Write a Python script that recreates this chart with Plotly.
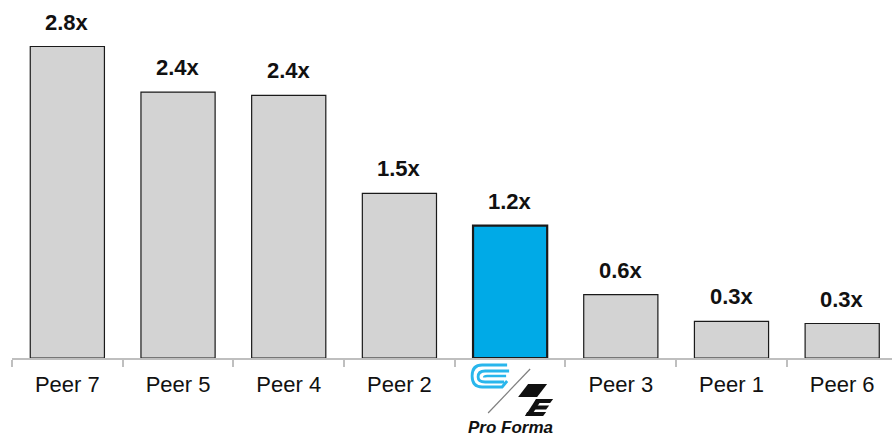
import plotly.graph_objects as go

categories = ["Peer 7", "Peer 5", "Peer 4", "Peer 2", "Pro Forma", "Peer 3", "Peer 1", "Peer 6"]
values = [2.80, 2.39, 2.36, 1.48, 1.19, 0.57, 0.33, 0.31]
labels = ["2.8x", "2.4x", "2.4x", "1.5x", "1.2x", "0.6x", "0.3x", "0.3x"]
highlight = "Pro Forma"

GRAY = "#d3d3d3"
BLUE = "#00aae7"
FONT = "Liberation Sans, Arial, sans-serif"

fill = [BLUE if c == highlight else GRAY for c in categories]
line_w = [2.2 if c == highlight else 1.2 for c in categories]

fig = go.Figure()
fig.add_trace(go.Bar(
    x=categories, y=values, width=0.67,
    marker=dict(color=fill, line=dict(color="#1a1a1a", width=line_w)),
    hoverinfo="skip",
))

for c, v, t in zip(categories, values, labels):
    fig.add_annotation(x=c, y=v, text=f"<b>{t}</b>", showarrow=False, yanchor="bottom",
                       yshift=10, font=dict(family=FONT, size=22, color="#111111"))

fig.add_annotation(x=highlight, y=0, text="<b><i>Pro Forma</i></b>", showarrow=False,
                   yanchor="middle", yshift=-69,
                   font=dict(family=FONT, size=17, color="#111111"))

# logo decoration under the Pro Forma category (pixel offsets from category centre / baseline)
CX, BY = 510, 358

def pth(cmds):
    out = []
    for cmd in cmds:
        if isinstance(cmd, str):
            out.append(cmd)
        else:
            out.append(f"{cmd[0]-CX},{BY-cmd[1]}")
    return " ".join(out)

def shape(cmds, **kw):
    fig.add_shape(type="path", path=pth(cmds), xref="x", yref="paper",
                  xanchor=highlight, yanchor=0, xsizemode="pixel", ysizemode="pixel", **kw)

cyan = "#29b6ec"
shape(["M", (507, 365), "L", (482, 365), "Q", (472, 365), "", (472, 376), "Q", (472, 387), "", (482, 387), "L", (502, 387),
       "L", (507, 381)],
      line=dict(color=cyan, width=2.8))
shape(["M", (509, 371), "L", (485, 371), "Q", (478, 371), "", (478, 377), "Q", (478, 382), "", (485, 382), "L", (504, 382)],
      line=dict(color=cyan, width=2.8))
shape(["M", (506, 376), "L", (487, 376), "Q", (484, 376), "", (484, 377.5)],
      line=dict(color=cyan, width=2.4))
shape(["M", (488, 413), "L", (530, 369)], line=dict(color="#7f7f7f", width=1.2))
blk = dict(fillcolor="#111111", line=dict(width=0))
shape(["M", (528, 384), "L", (547, 384), "L", (537, 397), "L", (518, 397), "Z"], **blk)
shape(["M", (536, 399), "L", (542, 399), "L", (531, 416), "L", (525, 416), "Z"], **blk)
shape(["M", (536, 399), "L", (553, 399), "L", (550, 403), "L", (534, 403), "Z"], **blk)
shape(["M", (533, 405.5), "L", (549, 405.5), "L", (546, 409.5), "L", (531, 409.5), "Z"], **blk)
shape(["M", (527, 412), "L", (546, 412), "L", (543, 416), "L", (525, 416), "Z"], **blk)

fig.update_layout(
    width=892, height=437,
    margin=dict(l=12, r=0, t=0, b=79),
    plot_bgcolor="white", paper_bgcolor="white",
    showlegend=False,
    bargap=0.33,
    xaxis=dict(
        type="category", range=[-0.5, 7.45],
        showline=True, linecolor="#bfbfbf", linewidth=2,
        ticks="outside", tickson="boundaries", ticklen=7, tickcolor="#bfbfbf", tickwidth=2,
        ticklabelstandoff=6,
        labelalias={highlight: " "},
        tickfont=dict(family=FONT, size=22, color="#111111"),
        showgrid=False, zeroline=False,
    ),
    yaxis=dict(range=[0, 3.218], visible=False, showgrid=False, zeroline=False),
)

fig.write_html("out.html")
